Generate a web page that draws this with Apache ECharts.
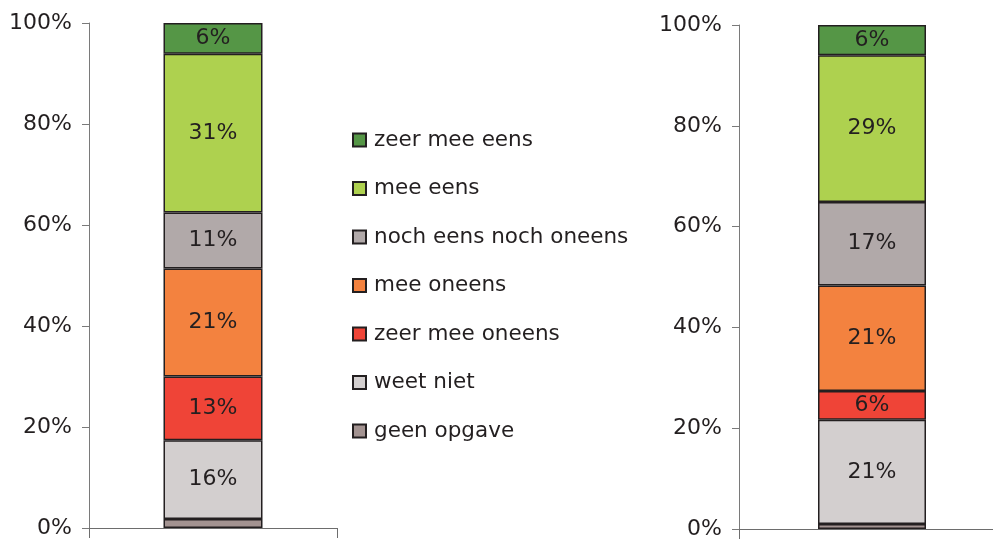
<!DOCTYPE html>
<html>
<head>
<meta charset="utf-8">
<script src="https://cdn.jsdelivr.net/npm/echarts@6/dist/echarts.min.js"></script>
<style>
  html, body { margin: 0; padding: 0; background: #fff; }
  #chart { width: 993px; height: 540px; }
</style>
</head>
<body>
<div id="chart"></div>
<script>
// categories, bottom to top of the stack
var categories = ['geen opgave', 'weet niet', 'zeer mee oneens', 'mee oneens',
                  'noch eens noch oneens', 'mee eens', 'zeer mee eens'];
var colors = ['#a39391', '#d3cfcf', '#ef4437', '#f3823f', '#b1a9a9', '#aed14f', '#559646'];

// percentages
var leftValues  = [1.8, 15.6, 12.6, 21.4, 11.1, 31.4, 6.1];
var rightValues = [1.0, 20.7, 5.7, 20.9, 16.6, 29.1, 6.0];

var yTicks = [0, 20, 40, 60, 80, 100];

var txt = '#231f20';
var font = 'DejaVu Sans';

function makeSeries(values, idx, bw) {
    return values.map(function (v, i) {
        return {
            name: categories[i],
            type: 'bar',
            stack: 'tot' + idx,
            xAxisIndex: idx,
            yAxisIndex: idx,
            barWidth: bw,
            itemStyle: { color: colors[i], borderColor: txt, borderWidth: 1.5 },
            label: {
                show: i > 0,
                position: 'inside',
                color: txt,
                fontFamily: font,
                fontSize: 22,
                formatter: function (p) { return Math.round(p.value) + '%'; }
            },
            data: [v]
        };
    });
}

function xAxis(idx) {
    return {
        type: 'category',
        gridIndex: idx,
        data: [''],
        axisLine: { lineStyle: { color: '#6d6d6d', width: 1 } },
        axisTick: { show: true, length: 10, lineStyle: { color: '#6d6d6d' } },
        axisLabel: { show: false }
    };
}

function yAxis(idx) {
    return {
        type: 'value',
        gridIndex: idx,
        min: yTicks[0],
        max: yTicks[yTicks.length - 1],
        interval: 20,
        splitLine: { show: false },
        axisLine: { show: true, lineStyle: { color: '#7a7a7a', width: 1 } },
        axisTick: { show: true, length: 7, lineStyle: { color: '#7a7a7a' } },
        axisLabel: {
            color: txt, fontFamily: font, fontSize: 22, margin: 17,
            formatter: '{value}%'
        }
    };
}

var chart = echarts.init(document.getElementById('chart'), null, { renderer: 'canvas' });

chart.setOption({
    animation: false,
    backgroundColor: '#fff',
    grid: [
        { left: 89, top: 23, width: 248, bottom: 12, outerBoundsMode: 'none' },
        { left: 739, top: 25, width: 266, bottom: 11, outerBoundsMode: 'none' }
    ],
    legend: {
        orient: 'vertical',
        left: 347,
        top: 124,
        itemWidth: 13,
        itemHeight: 13,
        itemGap: 26.5,
        icon: 'rect',
        data: categories.slice().reverse(),
        textStyle: { color: txt, fontFamily: font, fontSize: 21.5, lineHeight: 22, padding: [0, 0, 0, 3] }
    },
    xAxis: [xAxis(0), xAxis(1)],
    yAxis: [yAxis(0), yAxis(1)],
    series: makeSeries(leftValues, 0, 99).concat(makeSeries(rightValues, 1, 108))
});
</script>
</body>
</html>
